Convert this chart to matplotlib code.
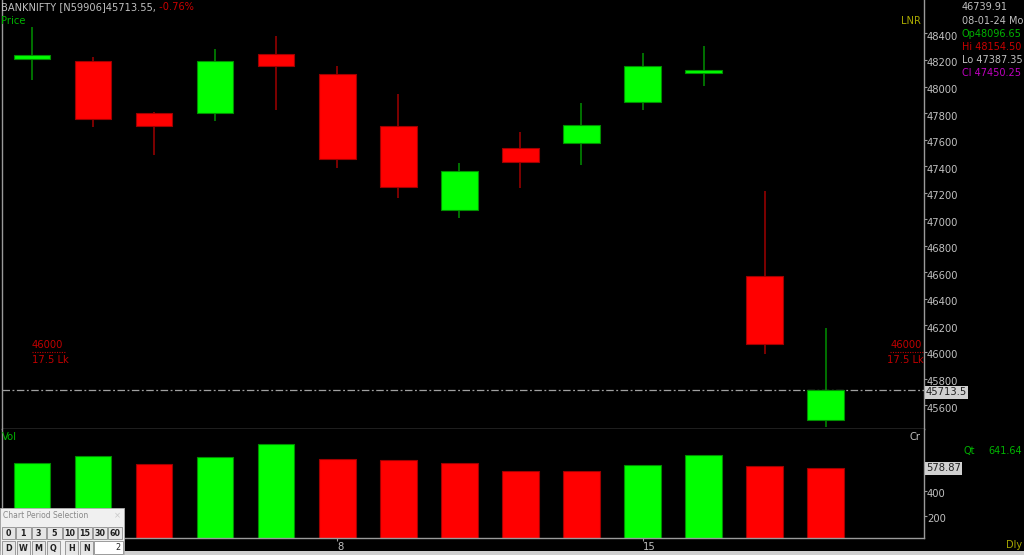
import matplotlib
matplotlib.use("Agg")
import matplotlib.pyplot as plt
import matplotlib.transforms as mtransforms
from matplotlib.patches import Rectangle
import numpy as np

# BANKNIFTY daily, Jan 2024
days = ["1", "2", "3", "4", "5", "8", "9", "10", "11", "12", "15", "16", "17", "18"]
opens = [48205, 48195, 47799, 47799, 48246, 48096.65, 47705, 47070, 47539, 47573, 47886, 48105, 46573, 45490]
highs = [48447, 48223, 47805, 48281, 48383, 48154.50, 47942, 47422, 47660, 47874, 48253, 48306, 47213, 46183]
lows = [48050, 47693, 47484, 47738, 47826, 47387.35, 47160, 47012, 47238, 47409, 47823, 48004, 45982, 45432]
closes = [48235, 47758, 47703, 48195, 48155, 47450.25, 47241, 47362, 47434, 47710, 48155, 48122, 46058, 45713.55]
volumes = [624, 678, 614, 667, 774, 651, 646, 619, 560, 555, 608, 683, 598, 578.87]

price_ticks = list(range(45600, 48401, 200))
vol_ticks = [200, 400]
xtick_idx = [5, 10]
alert_level = 46000

W, H = 1024, 555
GRAY = "#c0c0c0"
LINE = "#9a9a9a"
GREEN_T = "#00b400"
RED_T = "#c80000"


def box(x0, y0, x1, y1):
    # pixel rect (origin top-left) -> figure fraction rect
    return [x0 / W, 1 - y1 / H, (x1 - x0) / W, (y1 - y0) / H]


fig = plt.figure(figsize=(W / 100, H / 100), dpi=100, facecolor="black")
ax = fig.add_axes(box(2, 0, 924, 429), facecolor="black")
axv = fig.add_axes(box(2, 429, 924, 538), facecolor="black")

x = np.arange(len(opens))
bw = 0.6

# candles
for i in x:
    o, h, l, c = opens[i], highs[i], lows[i], closes[i]
    up = c >= o
    body = "#00ff00" if up else "#ff0000"
    wick = "#009000" if up else "#a00000"
    ax.vlines(i, l, h, color=wick, lw=1.1, zorder=2)
    ax.add_patch(Rectangle((i - bw / 2, min(o, c)), bw, max(abs(c - o), 22),
                           facecolor=body, edgecolor=wick, lw=0.8, zorder=3))

ax.set_xlim(-0.49, 14.61)
ax.set_ylim(45419.5, 48652)

# last price line
ax.axhline(closes[-1], color="#a0a0a0", lw=0.9, ls=(0, (6, 2, 1.5, 2)), zorder=1)

# alert level markers
down = mtransforms.ScaledTranslation(0, -3.5 / 100, fig.dpi_scale_trans)
up_ = mtransforms.ScaledTranslation(0, 1.5 / 100, fig.dpi_scale_trans)
ax.plot([0.0, 0.56], [alert_level, alert_level], color="#c00000", lw=0.8, ls=(0, (1, 1.2)))
ax.plot([14.05, 14.61], [alert_level, alert_level], color="#c00000", lw=0.8, ls=(0, (1, 1.2)))
ax.text(0.0, alert_level, "46000", color="#c00000", fontsize=7.2, ha="left", va="bottom",
        transform=ax.transData + up_)
ax.text(0.0, alert_level, "17.5 Lk", color="#c00000", fontsize=7.2, ha="left", va="top",
        transform=ax.transData + down)
ax.text(14.58, alert_level, "46000", color="#c00000", fontsize=7.2, ha="right", va="bottom",
        transform=ax.transData + up_)
ax.text(14.61, alert_level, "17.5 Lk", color="#c00000", fontsize=7.2, ha="right", va="top",
        transform=ax.transData + down)

# volume bars: colour by change vs previous day's volume
vcols = ["#00ff00"] + ["#00ff00" if volumes[k] >= volumes[k - 1] else "#ff0000" for k in range(1, len(volumes))]
vedge = ["#009000" if c == "#00ff00" else "#a00000" for c in vcols]
axv.bar(x, volumes, width=bw, color=vcols, edgecolor=vedge, lw=0.8)
axv.set_xlim(-0.49, 14.61)
axv.set_ylim(21.6, 893.6)

for a in (ax, axv):
    for s in a.spines.values():
        s.set_color(LINE)
        s.set_linewidth(1.0)
    a.yaxis.tick_right()
    a.tick_params(axis="y", colors=LINE, labelcolor=GRAY, labelsize=7.2,
                  length=2, width=0.8, pad=0, direction="out")
ax.spines["top"].set_visible(False)
axv.spines["top"].set_visible(False)

ax.set_xticks([])
ax.set_yticks(price_ticks)
ax.set_yticklabels([str(t) for t in price_ticks])

axv.set_yticks(vol_ticks)
axv.set_yticklabels([str(t) for t in vol_ticks])
axv.set_xticks(xtick_idx)
axv.set_xticklabels([days[k] for k in xtick_idx])
axv.tick_params(axis="x", colors=LINE, labelcolor=GRAY, labelsize=7.2, length=2, width=0.8, pad=1)
for lab in axv.get_xticklabels():
    lab.set_horizontalalignment("left")

# tick labels sit a little below their levels
off = mtransforms.ScaledTranslation(0, -2.5 / 100, fig.dpi_scale_trans)
for lab in ax.get_yticklabels() + axv.get_yticklabels():
    lab.set_transform(lab.get_transform() + off)

# value boxes on the right axis
lbl_tr = mtransforms.blended_transform_factory(ax.transAxes, ax.transData)
ax.text(1.002, closes[-1], "45713.5", transform=lbl_tr + off, color="#202020", fontsize=7.2,
        ha="left", va="center", clip_on=False,
        bbox=dict(boxstyle="square,pad=0.12", facecolor="#d0d0d0", edgecolor="none"))
vl_tr = mtransforms.blended_transform_factory(axv.transAxes, axv.transData)
axv.text(1.002, volumes[-1], f"{volumes[-1]:.2f}", transform=vl_tr, color="#202020", fontsize=7.2,
         ha="left", va="center", clip_on=False,
         bbox=dict(boxstyle="square,pad=0.12", facecolor="#d0d0d0", edgecolor="none"))

# overlay for header texts and the period widget (pixel coords)
ov = fig.add_axes([0, 0, 1, 1])
ov.set_xlim(0, W)
ov.set_ylim(H, 0)
ov.axis("off")
ov.patch.set_alpha(0)

t = ov.text(1, 7.5, "BANKNIFTY [N59906]45713.55,", color=GRAY, fontsize=7.1, va="center")
ov.annotate(" -0.76%", xycoords=t, xy=(1, 0.5), va="center", color=RED_T, fontsize=7.1)
ov.text(1, 20.5, "Price", color=GREEN_T, fontsize=7.2, va="center")
ov.text(921, 21, "LNR", color="#a8a800", fontsize=7.2, va="center", ha="right")

info = [("46739.91", GRAY), ("08-01-24 Mo", GRAY), ("Op48096.65", GREEN_T),
        ("Hi 48154.50", RED_T), ("Lo 47387.35", GRAY), ("Cl 47450.25", "#c000c0")]
for k, (s, c) in enumerate(info):
    ov.text(962, 7.5 + k * 13.1, s, color=c, fontsize=7.0, va="center")

ov.text(2, 437, "Vol", color=GREEN_T, fontsize=7.2, va="center")
ov.text(920, 437, "Cr", color=GRAY, fontsize=7.2, va="center", ha="right")
ov.text(963, 451, "Qt", color=GREEN_T, fontsize=7.0, va="center")
ov.text(1022, 451, "641.64", color=GREEN_T, fontsize=7.0, va="center", ha="right")
ov.text(1006, 545, "Dly", color="#a8a800", fontsize=7.0, va="center")

# bottom status strip
ov.add_patch(Rectangle((0, 551), W, 4, facecolor="#cfcfcf", edgecolor="none"))

# chart period selection widget
ov.add_patch(Rectangle((0, 508), 124, 47, facecolor="#f0f0f0", edgecolor="#b0b0b0", lw=0.6))
ov.text(3, 516, "Chart Period Selection", color="#888888", fontsize=5.5, va="center")
ov.text(117, 516, "×", color="#c8c8c8", fontsize=6, va="center", ha="center")
row1 = ["0", "1", "3", "5", "10", "15", "30", "60"]
edges1 = [2, 16, 31.5, 46.5, 62.5, 78, 93, 108, 123]
for k, s in enumerate(row1):
    x0, x1 = edges1[k], edges1[k + 1]
    ov.add_patch(Rectangle((x0, 527), x1 - x0 - 1, 12, facecolor="#e6e6e6", edgecolor="#8c8c8c", lw=0.6))
    ov.text((x0 + x1 - 1) / 2, 533.2, s, color="#202020", fontsize=5.8, weight="bold", ha="center", va="center")
row2 = [("D", 2), ("W", 17), ("M", 32), ("Q", 47), ("H", 65), ("N", 80)]
for s, x0 in row2:
    ov.add_patch(Rectangle((x0, 541), 13, 14, facecolor="#e6e6e6", edgecolor="#8c8c8c", lw=0.6))
    ov.text(x0 + 6.5, 548.5, s, color="#202020", fontsize=5.8, weight="bold", ha="center", va="center")
ov.add_patch(Rectangle((94, 541), 29, 13, facecolor="white", edgecolor="#8c8c8c", lw=0.6))
ov.text(120, 547.5, "2", color="#202020", fontsize=5.8, ha="right", va="center")

fig.savefig("out.png", dpi=100, facecolor="black")
